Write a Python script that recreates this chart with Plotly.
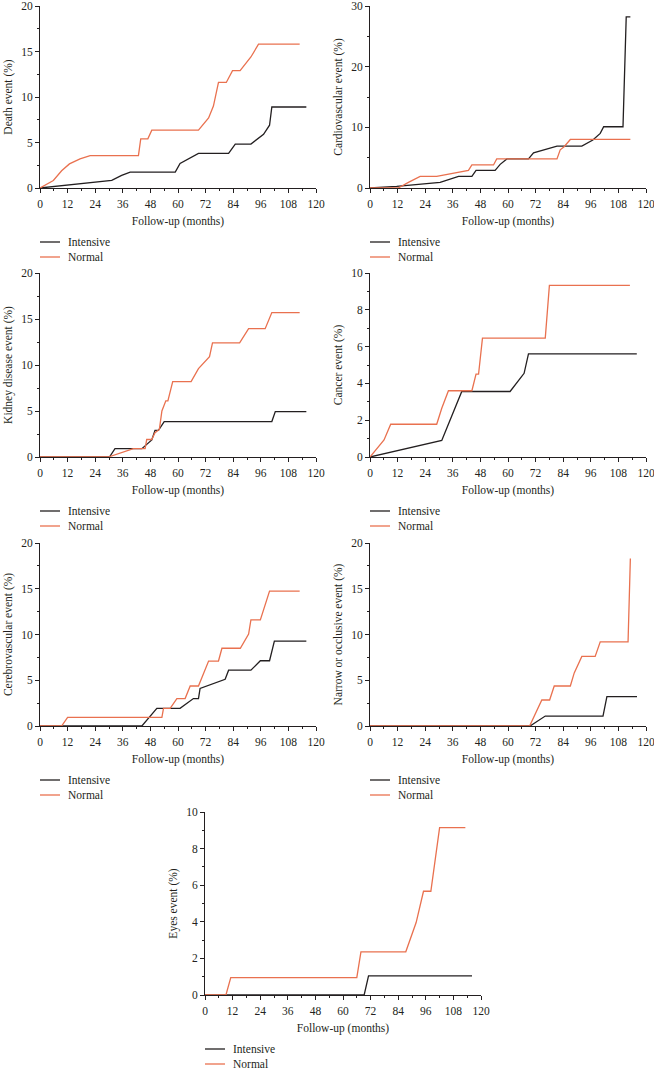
import plotly.graph_objects as go

W, H = 654, 1080

# ---------------- data (months, cumulative %) ----------------
death_int_m = [0, 31.2, 35.5, 39.2, 58.8, 60.9, 68.9, 82.0, 84.9, 91.7, 97.2, 99.8, 100.8, 115.8]
death_int_p = [0, 0.83, 1.38, 1.74, 1.74, 2.7, 3.8, 3.8, 4.83, 4.83, 5.9, 6.9, 8.9, 8.9]
death_nor_m = [0, 5.8, 9.4, 12.8, 17.4, 21.8, 42.8, 43.8, 46.9, 48.6, 68.9, 73.3, 75.4, 77.6, 81.0, 83.7, 87.0, 91.7, 95.0, 112.9]
death_nor_p = [0, 0.83, 1.9, 2.65, 3.2, 3.56, 3.56, 5.4, 5.4, 6.35, 6.35, 7.7, 9.0, 11.6, 11.6, 12.9, 12.9, 14.4, 15.8, 15.8]

cardio_int_m = [0, 11.6, 30.5, 38.5, 44.3, 46.1, 54.4, 56.6, 59.5, 68.9, 71.1, 81.3, 92.1, 96.9, 100.1, 101.6, 110.0, 111.4, 113.2]
cardio_int_p = [0, 0.27, 0.93, 1.9, 1.9, 2.9, 2.9, 3.9, 4.8, 4.8, 5.8, 6.9, 6.9, 7.9, 9.0, 10.1, 10.1, 28.2, 28.2]
cardio_nor_m = [0, 12.3, 16.7, 21.8, 29.0, 42.8, 44.3, 53.7, 55.1, 81.3, 82.7, 84.4, 87.1, 113.2]
cardio_nor_p = [0, 0, 0.93, 1.9, 1.9, 2.9, 3.8, 3.8, 4.8, 4.8, 6.3, 6.8, 8.0, 8.0]

kidney_int_m = [0, 30.2, 32.6, 44.3, 48.6, 50.0, 51.5, 54.0, 100.8, 102.3, 115.8]
kidney_int_p = [0, 0, 0.9, 0.9, 1.85, 2.9, 2.9, 3.85, 3.85, 4.94, 4.94]
kidney_nor_m = [0, 29.7, 40.6, 45.7, 46.4, 48.6, 50.0, 51.9, 53.0, 54.7, 55.6, 57.7, 65.7, 68.9, 73.7, 75.0, 86.8, 90.7, 97.9, 100.8, 112.9]
kidney_nor_p = [0, 0, 0.9, 0.9, 1.9, 1.9, 2.65, 3.0, 5.0, 6.1, 6.1, 8.2, 8.2, 9.6, 10.9, 12.4, 12.4, 13.95, 13.95, 15.7, 15.7]

cancer_int_m = [0, 31.2, 39.9, 60.9, 67.0, 68.9, 116.0]
cancer_int_p = [0, 0.9, 3.56, 3.56, 4.55, 5.6, 5.6]
cancer_nor_m = [0, 2.9, 6.1, 9.0, 29.0, 31.2, 34.1, 44.3, 46.1, 47.2, 48.9, 76.2, 78.0, 113.0]
cancer_nor_p = [0, 0.47, 0.93, 1.78, 1.78, 2.65, 3.6, 3.6, 4.5, 4.5, 6.46, 6.46, 9.33, 9.33]

cerebro_int_m = [0, 44.3, 50.8, 60.9, 66.7, 68.9, 69.6, 80.5, 82.0, 91.7, 95.8, 99.8, 101.9, 115.8]
cerebro_int_p = [0, 0, 1.93, 1.93, 3.0, 3.0, 4.1, 5.1, 6.1, 6.1, 7.13, 7.13, 9.28, 9.28]
cerebro_nor_m = [0, 9.4, 12.0, 53.0, 53.7, 56.6, 59.5, 63.1, 65.3, 68.9, 73.3, 77.6, 79.1, 87.1, 90.7, 91.7, 95.8, 99.8, 112.9]
cerebro_nor_p = [0, 0, 0.95, 0.95, 1.93, 1.93, 3.0, 3.0, 4.37, 4.37, 7.1, 7.1, 8.5, 8.5, 10.05, 11.6, 11.6, 14.75, 14.75]

narrow_int_m = [0, 69.6, 76.2, 101.3, 103.0, 116.1]
narrow_int_p = [0, 0, 1.09, 1.09, 3.2, 3.2]
narrow_nor_m = [0, 69.4, 74.7, 78.1, 80.1, 87.1, 88.8, 92.1, 97.9, 100.1, 112.2, 113.2]
narrow_nor_p = [0, 0, 2.84, 2.84, 4.37, 4.37, 5.8, 7.6, 7.6, 9.2, 9.2, 18.3]

eyes_int_m = [0, 69.2, 71.1, 116.1]
eyes_int_p = [0, 0, 1.05, 1.05]
eyes_nor_m = [0, 9.1, 11.2, 66.0, 67.8, 87.3, 91.8, 95.0, 98.2, 102.0, 113.2]
eyes_nor_p = [0, 0, 0.95, 0.95, 2.36, 2.36, 3.96, 5.67, 5.67, 9.15, 9.15]

x_ticks = [0, 12, 24, 36, 48, 60, 72, 84, 96, 108, 120]
series_names = ["Intensive", "Normal"]
y_titles = ["Death event (%)", "Cardiovascular event (%)", "Kidney disease event (%)",
            "Cancer event (%)", "Cerebrovascular event (%)", "Narrow or occlusive event (%)",
            "Eyes event (%)"]
y_max = [20, 30, 20, 10, 20, 20, 10]
y_dtick = [5, 10, 5, 2, 5, 5, 2]

series = [
    (death_int_m, death_int_p, death_nor_m, death_nor_p),
    (cardio_int_m, cardio_int_p, cardio_nor_m, cardio_nor_p),
    (kidney_int_m, kidney_int_p, kidney_nor_m, kidney_nor_p),
    (cancer_int_m, cancer_int_p, cancer_nor_m, cancer_nor_p),
    (cerebro_int_m, cerebro_int_p, cerebro_nor_m, cerebro_nor_p),
    (narrow_int_m, narrow_int_p, narrow_nor_m, narrow_nor_p),
    (eyes_int_m, eyes_int_p, eyes_nor_m, eyes_nor_p),
]

# ---------------- layout (pixel boxes: left, right, top, bottom) ----------------
boxes = [
    (40, 316, 6, 188), (370, 646, 6, 188),
    (40, 316, 273, 457), (370, 646, 273, 457),
    (40, 316, 543, 726), (370, 646, 543, 726),
    (205, 481, 812, 995),
]

BLACK = "#231F20"
ORANGE = "#E9714F"
FONT = "Liberation Serif"
FS = 11.5
colors = [BLACK, ORANGE]

fig = go.Figure()
layout = dict(
    width=W, height=H, margin=dict(l=0, r=0, t=0, b=0, autoexpand=False),
    plot_bgcolor="white", paper_bgcolor="white",
    font=dict(family=FONT, size=FS, color=BLACK),
    showlegend=False,
)
shapes = []
annotations = []

for i, (im, ip, nm, np_) in enumerate(series):
    k = "" if i == 0 else str(i + 1)
    fig.add_trace(go.Scatter(x=im, y=ip, mode="lines", name=series_names[0],
                             line=dict(color=BLACK, width=1.3),
                             xaxis="x" + k, yaxis="y" + k))
    fig.add_trace(go.Scatter(x=nm, y=np_, mode="lines", name=series_names[1],
                             line=dict(color=ORANGE, width=1.3),
                             xaxis="x" + k, yaxis="y" + k))
    l, r, t, b = boxes[i]
    layout["xaxis" + k] = dict(
        domain=[l / W, r / W], anchor="y" + k, range=[0, 120], automargin=False,
        tickvals=x_ticks, ticks="outside", ticklen=4, tickwidth=1, tickcolor=BLACK,
        ticklabelstandoff=1, ticklabeloverflow="allow",
        minor=dict(dtick=6, tick0=0, ticks="outside", ticklen=2, tickcolor=BLACK),
        showline=True, linecolor=BLACK, linewidth=1, showgrid=False, zeroline=False,
        tickfont=dict(family=FONT, size=FS, color=BLACK),
        title=dict(text="Follow-up (months)", standoff=8,
                   font=dict(family=FONT, size=FS, color=BLACK)),
    )
    layout["yaxis" + k] = dict(
        domain=[1 - b / H, 1 - t / H], anchor="x" + k, range=[0, y_max[i]], automargin=False,
        dtick=y_dtick[i], tick0=0, ticks="outside", ticklen=4, tickwidth=1, tickcolor=BLACK,
        ticklabeloverflow="allow",
        minor=dict(dtick=y_dtick[i] / 2, tick0=0, ticks="outside", ticklen=2, tickcolor=BLACK),
        showline=True, linecolor=BLACK, linewidth=1, showgrid=False, zeroline=False,
        tickfont=dict(family=FONT, size=FS, color=BLACK),
        title=dict(text=y_titles[i], standoff=6,
                   font=dict(family=FONT, size=FS, color=BLACK)),
    )
    # legend drawn per panel (line sample + real text)
    for j, name in enumerate(series_names):
        yy = 1 - (b + 54 + 15 * j) / H
        shapes.append(dict(type="line", xref="paper", yref="paper",
                           x0=l / W, x1=(l + 20) / W, y0=yy, y1=yy,
                           line=dict(color=colors[j], width=1.3)))
        annotations.append(dict(text=name, xref="paper", yref="paper",
                                x=(l + 26) / W, y=yy, xanchor="left", yanchor="middle",
                                showarrow=False,
                                font=dict(family=FONT, size=FS, color=BLACK)))

layout["shapes"] = shapes
layout["annotations"] = annotations
fig.update_layout(**layout)
fig.write_html("out.html", config={"displayModeBar": False},
               post_script="document.body.style.margin='0';")
